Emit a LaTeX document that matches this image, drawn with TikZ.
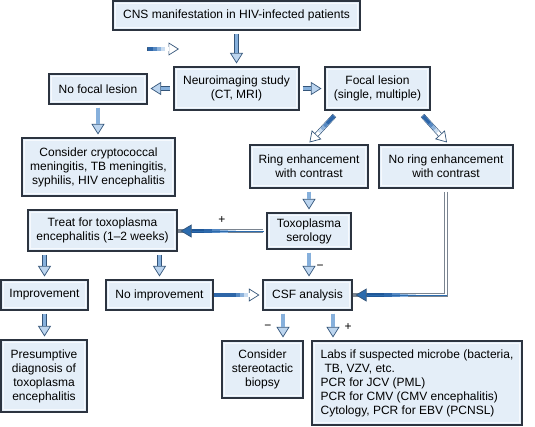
\documentclass[tikz,border=0pt]{standalone}
\usepackage{fontspec}
\setmainfont{Liberation Sans}
\usetikzlibrary{arrows.meta,calc}
\definecolor{boxfill}{HTML}{E4EEF8}
\definecolor{boxedge}{HTML}{2C3440}
\definecolor{innerline}{HTML}{F6F9FD}
\definecolor{edgeb}{HTML}{34557A}
\definecolor{shaftfill}{HTML}{86B0DC}
\definecolor{headfill}{HTML}{BCD5EF}
\definecolor{darkhead}{HTML}{2B6BAE}
\definecolor{dblgray}{HTML}{7A8490}
\definecolor{gA}{HTML}{C9DCF0}
\definecolor{gB}{HTML}{8DB2DB}
\definecolor{gC}{HTML}{5588C2}
\definecolor{gD}{HTML}{2E66A8}
\definecolor{gE}{HTML}{1F5797}
\begin{document}
\begin{tikzpicture}[x=1pt,y=-1pt,
  box/.style={draw=boxedge, line width=1.1pt, fill=boxfill, inner sep=0pt, align=center,
    font=\fontsize{12}{14}\selectfont,
    path picture={\draw[innerline, line width=0.9pt]
      ([shift={(2.2pt,-2.2pt)}]path picture bounding box.north west) rectangle
      ([shift={(-2.2pt,2.2pt)}]path picture bounding box.south east);}},
  blk/.style={line width=4.8pt, draw=edgeb,
    -{Triangle[length=10.5pt,width=13pt,line width=0.7pt,color=edgeb,fill=headfill]},
    shorten <=3pt, shorten >=3pt,
    postaction={draw=shaftfill, line width=3.3pt, -, shorten <=3.7pt, shorten >=13.5pt}},
  fade/.style={line width=4.8pt, draw=edgeb,
    -{Triangle[length=10.5pt,width=13pt,line width=0.7pt,color=edgeb,fill=white]},
    postaction={draw=white, line width=3.3pt, -, shorten <=0.7pt, shorten >=10.5pt},
    postaction={draw=gA, line width=3.3pt, -, shorten <=0.7pt, shorten >=14pt},
    postaction={draw=gB, line width=3.3pt, -, shorten <=0.7pt, shorten >=18pt},
    postaction={draw=gC, line width=3.3pt, -, shorten <=0.7pt, shorten >=22pt},
    postaction={draw=gD, line width=3.3pt, -, shorten <=0.7pt, shorten >=26pt}},
  dblbase/.style={line width=3.6pt, draw=dblgray, shorten <=3pt,
    postaction={draw=white, line width=2pt, -, shorten <=3pt, shorten >=14pt}},
  inlayers/.style={
    postaction={draw=gA, line width=2.4pt, -, shorten <=#1pt, shorten >=14pt},
    postaction={draw=gB, line width=3pt, -, shorten <=#1pt+8pt, shorten >=14pt},
    postaction={draw=gC, line width=3.6pt, -, shorten <=#1pt+16pt, shorten >=14pt},
    postaction={draw=gD, line width=4pt, -, shorten <=#1pt+24pt, shorten >=14pt},
    postaction={draw=gE, line width=4pt, -, shorten <=#1pt+32pt, shorten >=14pt},
    postaction={draw=darkhead, line width=0pt, shorten >=3pt,
      -{Triangle[length=11pt,width=13pt,line width=0.7pt,color=edgeb,fill=darkhead]}}},
  lbl/.style={font=\fontsize{12}{14}\selectfont, inner sep=0pt},
]
\useasboundingbox (0,0) rectangle (535,426);

\node[box, minimum width=247pt, minimum height=29pt] (cns) at (236.5,15.5) {CNS manifestation in HIV-infected patients};
\node[box, minimum width=125pt, minimum height=43pt] (neuro) at (236.5,88.5) {Neuroimaging study\\(CT, MRI)};
\node[box, minimum width=98pt, minimum height=30pt] (nofocal) at (98,89) {No focal lesion};
\node[box, minimum width=105pt, minimum height=43pt] (focal) at (377.5,88.5) {Focal lesion\\(single, multiple)};
\node[box, minimum width=153pt, minimum height=58pt] (consider) at (98.5,167) {Consider cryptococcal\\meningitis, TB meningitis,\\syphilis, HIV encephalitis};
\node[box, minimum width=118pt, minimum height=43pt] (ring) at (309,166.5) {Ring enhancement\\with contrast};
\node[box, minimum width=134pt, minimum height=43pt] (noring) at (446,166.5) {No ring enhancement\\with contrast};
\node[box, minimum width=84pt, minimum height=36pt] (toxo) at (309,231) {Toxoplasma\\serology};
\node[box, minimum width=149pt, minimum height=41pt] (treat) at (102.5,230.5) {Treat for toxoplasma\\encephalitis (1–2 weeks)};
\node[box, minimum width=87pt, minimum height=30pt] (improv) at (44.5,295) {Improvement};
\node[box, minimum width=107pt, minimum height=30pt] (noimp) at (159.5,295) {No improvement};
\node[box, minimum width=89pt, minimum height=30pt] (csf) at (307.5,295) {CSF analysis};
\node[box, minimum width=86pt, minimum height=72pt] (presump) at (44,376) {Presumptive\\diagnosis of\\toxoplasma\\encephalitis};
\node[box, minimum width=81pt, minimum height=57pt] (stereo) at (262.5,369.5) {Consider\\stereotactic\\biopsy};
\node[box, minimum width=210pt, minimum height=84pt, align=left] (labs) at (417,383) {Labs if suspected microbe (bacteria,\\\hspace*{4pt}TB, VZV, etc.\\PCR for JCV (PML)\\PCR for CMV (CMV encephalitis)\\Cytology, PCR for EBV (PCNSL)};

\coordinate (s1) at (147,49);
\coordinate (s2) at (179,49);
\coordinate (xm) at (283,0);
\coordinate (xp) at (333,0);

\draw[fade] (s1) -- (s2);
\draw[blk] (cns) -- (neuro);
\draw[blk] (neuro.west) -- (neuro.west -| nofocal.east);
\draw[blk] (neuro.east) -- (focal.west);
\draw[fade] ([shift={(10,5)}]focal.south west) -- ([shift={(60,-2)}]ring.north west);
\draw[fade] ([shift={(-8,5)}]focal.south east) -- ([shift={(1,-2)}]noring.north);
\draw[blk] (nofocal.south) -- (nofocal.south |- consider.north);
\draw[blk] (ring) -- (toxo);
\draw[dblbase, inlayers=30] (toxo.west) -- (toxo.west -| treat.east);
\draw[blk] (treat.south -| improv.north) -- (improv.north);
\draw[blk] (treat.south -| noimp.north) -- (noimp.north);
\draw[blk] (toxo.south) -- (toxo.south |- csf.north);
\draw[fade, shorten <=3pt, shorten >=3pt] (noimp.east) -- (csf.west);
\draw[dblbase] (noring.south) |- (csf.east);
\path[inlayers=30] (noring.south |- csf.east) -- (csf.east);
\draw[blk] (improv.south) -- (improv.south |- presump.north);
\draw[blk] (csf.south -| xm) -- (stereo.north -| xm);
\draw[blk] (csf.south -| xp) -- (labs.north -| xp);

\node[lbl] (plus1) at (222,220) {+};
\node[lbl] (minus1) at (320,267) {−};
\node[lbl] (minus2) at (268,327) {−};
\node[lbl] (plus2) at (348,327) {+};
\end{tikzpicture}
\end{document}
